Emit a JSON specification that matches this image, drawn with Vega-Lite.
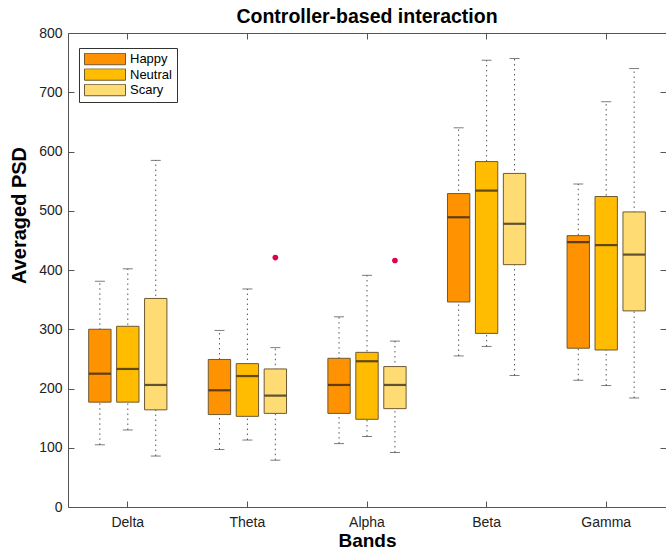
{
  "$schema": "https://vega.github.io/schema/vega-lite/v6.json",
  "width": 598,
  "height": 474,
  "autosize": {"type": "none"},
  "padding": {"left": 68, "top": 33, "right": 0, "bottom": 45},
  "background": "white",
  "title": {
    "text": "Controller-based interaction",
    "font": "Liberation Sans",
    "fontSize": 19.5,
    "fontWeight": "bold",
    "color": "#000",
    "anchor": "middle",
    "offset": -1
  },
  "datasets": {
    "boxes": [
      {"band": "Delta", "condition": "Happy", "lower": 105, "q1": 177, "median": 225, "q3": 300, "upper": 381},
      {"band": "Delta", "condition": "Neutral", "lower": 130, "q1": 177, "median": 233, "q3": 305, "upper": 402},
      {"band": "Delta", "condition": "Scary", "lower": 86, "q1": 164, "median": 206, "q3": 352, "upper": 585},
      {"band": "Theta", "condition": "Happy", "lower": 97, "q1": 156, "median": 197, "q3": 249, "upper": 298},
      {"band": "Theta", "condition": "Neutral", "lower": 113, "q1": 153, "median": 221, "q3": 242, "upper": 368},
      {"band": "Theta", "condition": "Scary", "lower": 79, "q1": 158, "median": 188, "q3": 233, "upper": 269},
      {"band": "Alpha", "condition": "Happy", "lower": 107, "q1": 158, "median": 206, "q3": 251, "upper": 321},
      {"band": "Alpha", "condition": "Neutral", "lower": 119, "q1": 148, "median": 246, "q3": 261, "upper": 391},
      {"band": "Alpha", "condition": "Scary", "lower": 92, "q1": 166, "median": 206, "q3": 237, "upper": 280},
      {"band": "Beta", "condition": "Happy", "lower": 255, "q1": 346, "median": 489, "q3": 529, "upper": 640},
      {"band": "Beta", "condition": "Neutral", "lower": 271, "q1": 293, "median": 534, "q3": 583, "upper": 754},
      {"band": "Beta", "condition": "Scary", "lower": 222, "q1": 409, "median": 478, "q3": 563, "upper": 757},
      {"band": "Gamma", "condition": "Happy", "lower": 214, "q1": 268, "median": 447, "q3": 458, "upper": 545},
      {"band": "Gamma", "condition": "Neutral", "lower": 205, "q1": 265, "median": 442, "q3": 524, "upper": 684},
      {"band": "Gamma", "condition": "Scary", "lower": 184, "q1": 331, "median": 426, "q3": 498, "upper": 740}
    ],
    "outliers": [
      {"band": "Theta", "condition": "Scary", "value": 421},
      {"band": "Alpha", "condition": "Scary", "value": 416}
    ]
  },
  "config": {
    "view": {"stroke": "#555", "strokeWidth": 1},
    "axis": {
      "domain": false,
      "grid": false,
      "ticks": true,
      "labelFont": "Liberation Sans",
      "labelFontSize": 14,
      "labelColor": "#222",
      "labelOverlap": false,
      "titleFont": "Liberation Sans",
      "titleFontSize": 19,
      "titleFontWeight": "bold",
      "titleColor": "#000",
      "tickColor": "#555",
      "tickWidth": 1,
      "tickSize": -6,
      "zindex": 2
    }
  },
  "data": {"name": "boxes"},
  "layer": [
    {
      "mark": {"type": "rule", "color": "#555", "strokeWidth": 1, "strokeDash": [1.5, 3.5]},
      "encoding": {
        "x": {
          "field": "band", "type": "nominal",
          "sort": ["Delta", "Theta", "Alpha", "Beta", "Gamma"],
          "scale": {"paddingInner": 0, "paddingOuter": 0},
          "axis": {"orient": "bottom", "title": "Bands", "labelAngle": 0, "labelPadding": 14, "titlePadding": 2}
        },
        "xOffset": {
          "field": "condition", "type": "nominal",
          "sort": ["Happy", "Neutral", "Scary"],
          "scale": {"paddingInner": 0.2, "paddingOuter": 0.74}
        },
        "y": {
          "field": "lower", "type": "quantitative",
          "scale": {"domain": [0, 800], "nice": false, "zero": true},
          "axis": {"orient": "left", "title": "Averaged PSD", "titleFontSize": 20, "titleY": 182, "values": [0, 100, 200, 300, 400, 500, 600, 700, 800], "labelPadding": 12, "titlePadding": 9}
        },
        "y2": {"field": "upper"}
      }
    },
    {
      "mark": {"type": "tick", "color": "#444", "thickness": 1, "size": 10},
      "encoding": {
        "x": {"field": "band", "type": "nominal", "sort": ["Delta", "Theta", "Alpha", "Beta", "Gamma"],
          "axis": {"orient": "top", "title": null, "labels": false}},
        "xOffset": {"field": "condition", "type": "nominal", "sort": ["Happy", "Neutral", "Scary"]},
        "y": {"field": "lower", "type": "quantitative",
          "axis": {"orient": "right", "title": null, "labels": false, "values": [0, 100, 200, 300, 400, 500, 600, 700, 800]}}
      }
    },
    {
      "mark": {"type": "tick", "color": "#444", "thickness": 1, "size": 10},
      "encoding": {
        "x": {"field": "band", "type": "nominal", "sort": ["Delta", "Theta", "Alpha", "Beta", "Gamma"], "axis": null},
        "xOffset": {"field": "condition", "type": "nominal", "sort": ["Happy", "Neutral", "Scary"]},
        "y": {"field": "upper", "type": "quantitative", "axis": null}
      }
    },
    {
      "mark": {"type": "bar", "stroke": "#6e5a33", "strokeWidth": 1, "opacity": 1},
      "encoding": {
        "x": {"field": "band", "type": "nominal", "sort": ["Delta", "Theta", "Alpha", "Beta", "Gamma"], "axis": null},
        "xOffset": {"field": "condition", "type": "nominal", "sort": ["Happy", "Neutral", "Scary"]},
        "y": {"field": "q1", "type": "quantitative", "axis": null},
        "y2": {"field": "q3"},
        "fill": {
          "field": "condition", "type": "nominal",
          "scale": {"domain": ["Happy", "Neutral", "Scary"], "range": ["#FF9200", "#FFBC00", "#FFDC73"]},
          "legend": {
            "orient": "none",
            "legendX": 11,
            "legendY": 15,
            "title": null,
            "padding": 5,
            "fillColor": "white",
            "strokeColor": "#333",
            "symbolType": "M-1,-0.28H1V0.28H-1Z",
            "symbolSize": 1681,
            "clipHeight": 12,
            "symbolStrokeColor": "#6e5a33",
            "symbolStrokeWidth": 1,
            "symbolOpacity": 1,
            "labelFont": "Liberation Sans",
            "labelFontSize": 13,
            "labelColor": "#000",
            "labelOffset": 4,
            "rowPadding": 2.5
          }
        }
      }
    },
    {
      "mark": {"type": "tick", "color": "#1a1a1a", "thickness": 2.2, "size": 22},
      "encoding": {
        "x": {"field": "band", "type": "nominal", "sort": ["Delta", "Theta", "Alpha", "Beta", "Gamma"], "axis": null},
        "xOffset": {"field": "condition", "type": "nominal", "sort": ["Happy", "Neutral", "Scary"]},
        "y": {"field": "median", "type": "quantitative", "axis": null}
      }
    },
    {
      "data": {"name": "outliers"},
      "mark": {"type": "point", "filled": true, "color": "#E0004D", "size": 32, "opacity": 1},
      "encoding": {
        "x": {"field": "band", "type": "nominal", "sort": ["Delta", "Theta", "Alpha", "Beta", "Gamma"], "axis": null},
        "xOffset": {"field": "condition", "type": "nominal", "sort": ["Happy", "Neutral", "Scary"]},
        "y": {"field": "value", "type": "quantitative", "axis": null}
      }
    }
  ],
  "resolve": {"axis": {"x": "independent", "y": "independent"}}
}
